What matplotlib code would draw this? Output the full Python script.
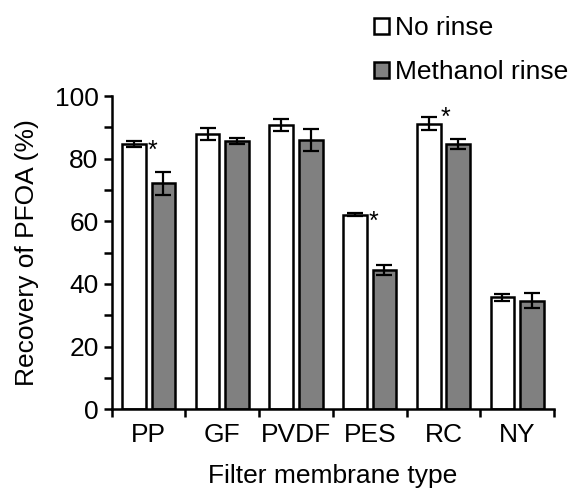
import numpy as np
import matplotlib.pyplot as plt
from matplotlib.ticker import MultipleLocator

plt.rcParams['font.family'] = ['Liberation Sans', 'DejaVu Sans']

categories = ['PP', 'GF', 'PVDF', 'PES', 'RC', 'NY']
no_rinse = [84.6, 87.9, 90.7, 62.1, 91.2, 35.8]
no_rinse_err = [1.0, 2.0, 2.0, 0.5, 2.0, 1.1]
methanol = [72.1, 85.6, 85.9, 44.5, 84.7, 34.7]
methanol_err = [3.6, 1.0, 3.6, 1.5, 1.7, 2.5]
star_flags = [1, 0, 0, 1, 1, 0]

fig = plt.figure(figsize=(5.7, 4.9), dpi=100)
ax = fig.add_axes([0.196, 0.165, 0.776, 0.639])

x = np.arange(len(categories)) + 0.5
w = 0.32
ek = dict(ecolor='black', elinewidth=1.6, capsize=6, capthick=1.6)
ax.bar(x - 0.2, no_rinse, w, yerr=no_rinse_err, color='white',
       edgecolor='black', linewidth=1.8, label='No rinse', error_kw=ek)
ax.bar(x + 0.2, methanol, w, yerr=methanol_err, color='#808080',
       edgecolor='black', linewidth=1.8, label='Methanol rinse', error_kw=ek)

# significance markers (RC one sits above the bar, others beside it)
for i, f in enumerate(star_flags):
    if not f:
        continue
    if categories[i] == 'RC':
        ax.text(x[i] + 0.03, no_rinse[i] - 2.0, '*', fontsize=18,
                ha='center', va='bottom')
    else:
        ax.text(x[i] + 0.05, no_rinse[i] - 6, '*', fontsize=18,
                ha='center', va='bottom')

ax.set_xlim(0, 6)
ax.set_ylim(0, 100)
ax.set_xticks(x)
ax.set_xticklabels(categories)
ax.set_xticks(np.arange(0, 7), minor=True)
ax.tick_params(axis='x', which='major', length=0, labelsize=19, pad=10)
ax.tick_params(axis='x', which='minor', length=6, width=1.8, direction='out')
ax.yaxis.set_major_locator(MultipleLocator(20))
ax.yaxis.set_minor_locator(MultipleLocator(10))
ax.tick_params(axis='y', which='major', length=6, width=1.8, labelsize=19)
ax.tick_params(axis='y', which='minor', length=6, width=1.8)
for s in ['top', 'right']:
    ax.spines[s].set_visible(False)
for s in ['left', 'bottom']:
    ax.spines[s].set_linewidth(1.8)

ax.set_ylabel('Recovery of PFOA (%)', fontsize=19, labelpad=11)
ax.set_xlabel('Filter membrane type', fontsize=19, labelpad=12)

fig.legend(loc='upper right', bbox_to_anchor=(1.038, 1.015), frameon=False,
           fontsize=19, handlelength=0.6, handleheight=0.6,
           handletextpad=0.2, labelspacing=0.75)

fig.savefig('out.png', dpi=100)
